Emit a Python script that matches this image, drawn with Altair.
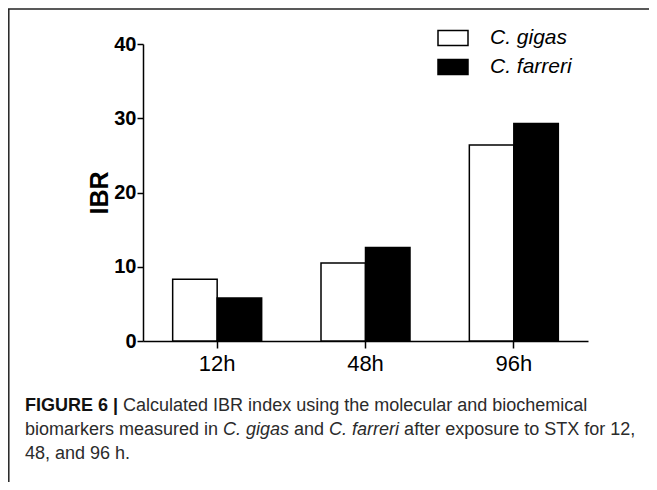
import altair as alt
import pandas as pd

# ---------------- data ----------------
times = ["12h", "48h", "96h"]
species = ["C. gigas", "C. farreri"]
gigas_ibr = [8.3, 10.5, 26.4]
farreri_ibr = [5.8, 12.6, 29.3]
y_ticks = [0, 10, 20, 30, 40]
y_title = "IBR"

cap1_bold = "FIGURE 6 |"
cap1_text = "Calculated IBR index using the molecular and biochemical"
cap2_parts = [
    ("biomarkers measured in ", "normal"),
    ("C. gigas", "italic"),
    (" and ", "normal"),
    ("C. farreri", "italic"),
    (" after exposure to STX for 12,", "normal"),
]
cap3_text = "48, and 96 h."

rows = []
for t, g, f in zip(times, gigas_ibr, farreri_ibr):
    rows.append({"time": t, "species": species[0], "ibr": g})
    rows.append({"time": t, "species": species[1], "ibr": f})
df = pd.DataFrame(rows)

# ---------------- layout ----------------
FONT = "Liberation Sans, Arial, Helvetica, sans-serif"
W, H = 445, 297
PL, PT = 135, 36
TOTAL_W, TOTAL_H = 641, 474
PR = TOTAL_W - PL - W
PB = TOTAL_H - PT - H

# Arial / Liberation Sans advance widths (per 1000 em)
AW = {" ": 278, "a": 556, "b": 556, "c": 500, "d": 556, "e": 556, "f": 278, "g": 556,
      "h": 556, "i": 222, "j": 222, "k": 500, "l": 222, "m": 833, "n": 556, "o": 556,
      "p": 556, "q": 556, "r": 333, "s": 500, "t": 278, "u": 556, "v": 500, "w": 722,
      "x": 500, "y": 500, "z": 500, "C": 722, "S": 667, "T": 611, "X": 667, ",": 278,
      ".": 278, "|": 260}
for d in "0123456789":
    AW[d] = 556
BOLD_AW = {"F": 611, "I": 278, "G": 778, "U": 722, "R": 722, "E": 667, " ": 278,
           "6": 556, "|": 280}


def text_w(s, size, table=AW):
    return sum(table.get(ch, 556) for ch in s) * size / 1000.0


CAP_SIZE = 18
CAP_X = 25 - (8 + PL)          # relative to plot origin
BASE1 = 411 - (8 + PT)
LINE_H = 24
CAP_COLOR = "#2b2b2b"

one = pd.DataFrame({"k": [0]})

# ---------------- bars ----------------
bars = alt.Chart(df).mark_bar(stroke="black", strokeWidth=1.5).encode(
    x=alt.X(
        "time:N", sort=times,
        scale=alt.Scale(paddingInner=0.4, paddingOuter=0.2),
        axis=alt.Axis(title=None, labelAngle=0, labelFont=FONT, labelFontSize=22,
                      labelColor="black", tickSize=7, tickColor="black", tickWidth=1.5,
                      domainColor="black", domainWidth=1.5, labelPadding=5, grid=False),
    ),
    xOffset=alt.XOffset("species:N", sort=species,
                        scale=alt.Scale(domain=species, paddingInner=0, paddingOuter=0)),
    y=alt.Y(
        "ibr:Q",
        scale=alt.Scale(domain=[0, 40], nice=False),
        axis=alt.Axis(values=y_ticks, title=y_title, grid=False, labelFont=FONT,
                      labelFontSize=20, labelFontWeight="bold", labelColor="black",
                      labelPadding=1, tickSize=6, tickColor="black", tickWidth=1.5,
                      domainColor="black", domainWidth=1.5,
                      titleFont=FONT, titleFontSize=25, titleFontWeight="bold",
                      titleColor="black", titleAngle=270, titleX=-44, titleY=H / 2,
                      titleAlign="center", titleBaseline="middle"),
    ),
    fill=alt.Fill(
        "species:N", sort=species,
        scale=alt.Scale(domain=species, range=["white", "black"]),
        legend=alt.Legend(title=None, orient="none", legendX=294, legendY=-22,
                          direction="vertical",
                          symbolType="M-1,-0.5H1V0.5H-1Z", symbolSize=900,
                          symbolStrokeColor="black", symbolStrokeWidth=1.5,
                          symbolOpacity=1,
                          labelFont=FONT, labelFontSize=21, labelFontStyle="italic",
                          labelColor="black", labelOffset=21, rowPadding=2, padding=0),
    ),
)

# ---------------- frame ----------------
frame_left = alt.Chart(one).mark_rule(color="#222", strokeWidth=1.5).encode(
    x=alt.value(-PL + 0.8), y=alt.value(-PT + 1), y2=alt.value(H + PB))
frame_top = alt.Chart(one).mark_rule(color="#222", strokeWidth=1.5).encode(
    x=alt.value(-PL), x2=alt.value(W + PR), y=alt.value(-PT + 1))

# ---------------- caption ----------------
layers = [bars, frame_left, frame_top]


def cap_text(s, x, y, weight="normal", style="normal", color=CAP_COLOR):
    lead = len(s) - len(s.lstrip(" "))
    x = x + text_w(" " * lead, CAP_SIZE)
    return alt.Chart(pd.DataFrame({"t": [s.strip()]})).mark_text(
        align="left", baseline="alphabetic", font=FONT, fontSize=CAP_SIZE,
        fontWeight=weight, fontStyle=style, color=color,
    ).encode(x=alt.value(x), y=alt.value(y), text="t:N")


layers.append(cap_text(cap1_bold, CAP_X, BASE1, weight="bold", color="#111"))
layers.append(cap_text(cap1_text, CAP_X + text_w(cap1_bold + " ", CAP_SIZE, BOLD_AW), BASE1))

xx = CAP_X
for s, st in cap2_parts:
    layers.append(cap_text(s, xx, BASE1 + LINE_H, style=st))
    xx += text_w(s, CAP_SIZE)

layers.append(cap_text(cap3_text, CAP_X, BASE1 + 2 * LINE_H))

chart = alt.layer(*layers).properties(
    width=W, height=H,
    autosize=alt.AutoSizeParams(type="none"),
    padding={"left": PL, "top": PT, "right": PR, "bottom": PB},
    background="white",
).configure_view(strokeWidth=0)

chart.save("out.html", embed_options={"renderer": "svg", "actions": False})
